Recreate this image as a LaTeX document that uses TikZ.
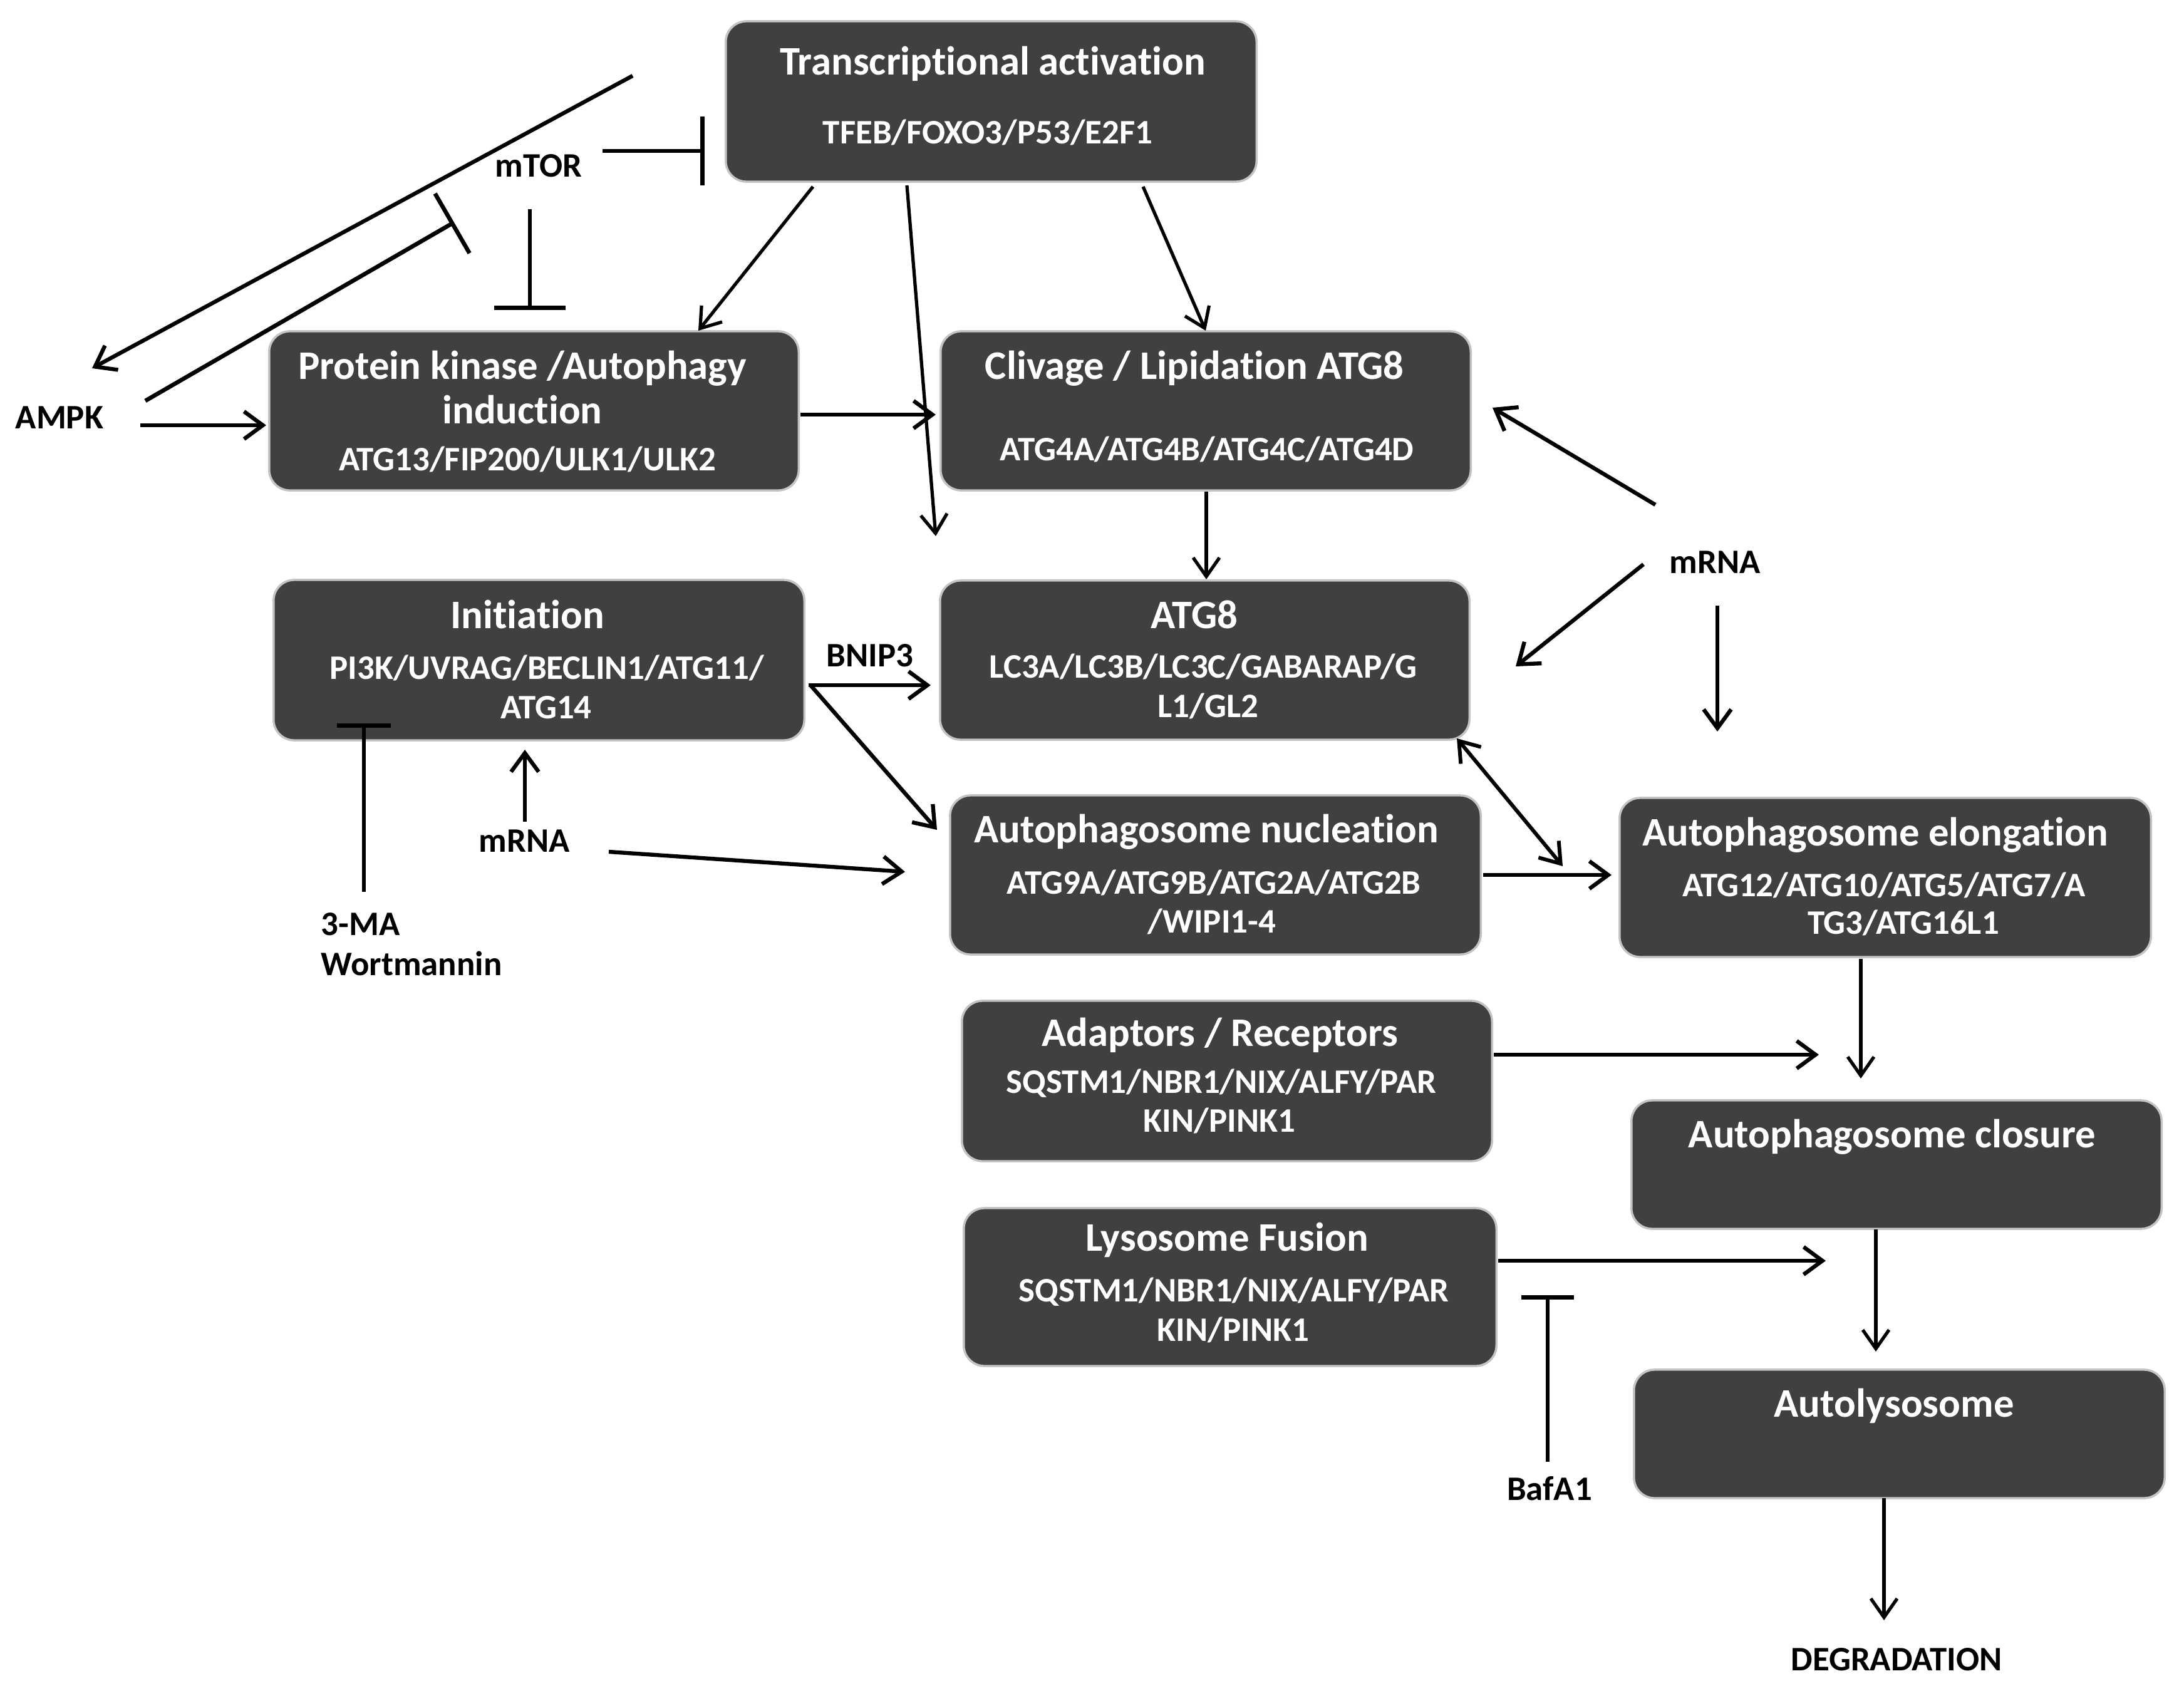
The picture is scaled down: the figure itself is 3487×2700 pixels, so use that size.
\documentclass[tikz,border=0pt]{standalone}
\usepackage{fontspec}
\setmainfont{Carlito}[Ligatures={NoCommon,NoRare,NoContextual},RawFeature={-liga;-clig;-dlig}]
\usetikzlibrary{arrows.meta}
\definecolor{boxgray}{HTML}{404040}
\definecolor{edgegray}{HTML}{C4C4C4}
\begin{document}
\begin{tikzpicture}[x=0.01cm,y=-0.01cm,
  box/.style={draw=edgegray, line width=0.035cm, fill=boxgray, rounded corners=0.33cm, inner sep=0pt},
  ttl/.style={anchor=base, text=white, inner sep=0pt, font=\fontsize{18.4}{22}\selectfont\bfseries},
  sub/.style={anchor=base, text=white, inner sep=0pt, font=\fontsize{15.6}{18}\selectfont\bfseries},
  lbl/.style={anchor=base, text=black, inner sep=0pt, font=\fontsize{15.6}{18}\selectfont\bfseries},
  lbll/.style={lbl, anchor=base west},
  act/.style={line width=1.8pt, -{Straight Barb[length=0.3cm,width=0.44cm]}},
  tact/.style={line width=1.5pt, -{Straight Barb[length=0.3cm,width=0.42cm]}},
  dact/.style={line width=1.7pt, {Straight Barb[length=0.3cm,width=0.42cm]}-{Straight Barb[length=0.3cm,width=0.42cm]}},
  inh/.style={line width=1.9pt, -{Bar[width=#1]}},
  inh/.default=1.1cm]
\useasboundingbox[fill=white] (0,0) rectangle (3487,2700);

% boxes
\node[box, minimum width=8.47cm, minimum height=2.56cm] (ta) at (1582.5,162) {};
\node[box, minimum width=8.45cm, minimum height=2.54cm] (pk) at (852.5,656) {};
\node[box, minimum width=8.46cm, minimum height=2.54cm] (cl) at (1925,656) {};
\node[box, minimum width=8.47cm, minimum height=2.56cm] (in) at (860.5,1054) {};
\node[box, minimum width=8.45cm, minimum height=2.54cm] (a8) at (1923.5,1054) {};
\node[box, minimum width=8.47cm, minimum height=2.54cm] (nu) at (1940.5,1397) {};
\node[box, minimum width=8.48cm, minimum height=2.54cm] (el) at (3010,1401) {};
\node[box, minimum width=8.46cm, minimum height=2.56cm] (ad) at (1959,1726) {};
\node[box, minimum width=8.46cm, minimum height=2.05cm] (clo) at (3028,1859.5) {};
\node[box, minimum width=8.50cm, minimum height=2.52cm] (ly) at (1964,2055) {};
\node[box, minimum width=8.47cm, minimum height=2.05cm] (au) at (3032.5,2289.5) {};

% box texts
\node[ttl] (taT) at (1585,120) {Transcriptional activation};
\node[sub] (taS) at (1577,230) {TFEB/FOXO3/P53/E2F1};
\node[ttl] (pkT) at (834,605) {Protein kinase /Autophagy};
\node[ttl] (pkT2) at (834,676) {induction};
\node[sub] (pkS) at (842,751) {ATG13/FIP200/ULK1/ULK2};
\node[ttl] (clT) at (1907,605) {Clivage / Lipidation ATG8};
\node[sub] (clS) at (1927,735) {ATG4A/ATG4B/ATG4C/ATG4D};
\node[ttl] (inT) at (842,1003) {Initiation};
\node[sub] (inS) at (873,1084) {PI3K/UVRAG/BECLIN1/ATG11/};
\node[sub] (inS2) at (872,1147) {ATG14};
\node[ttl] (a8T) at (1907,1003) {ATG8};
\node[sub] (a8S) at (1921,1082) {LC3A/LC3B/LC3C/GABARAP/G};
\node[sub] (a8S2) at (1929,1145) {L1/GL2};
\node[ttl] (nuT) at (1926,1345) {Autophagosome nucleation};
\node[sub] (nuS) at (1938,1427) {ATG9A/ATG9B/ATG2A/ATG2B};
\node[sub] (nuS2) at (1935,1489) {/WIPI1-4};
\node[ttl] (elT) at (2994,1350) {Autophagosome elongation};
\node[sub] (elS) at (3008,1431) {ATG12/ATG10/ATG5/ATG7/A};
\node[sub] (elS2) at (3039,1491) {TG3/ATG16L1};
\node[ttl] (adT) at (1948,1670) {Adaptors / Receptors};
\node[sub] (adS) at (1950,1745) {SQSTM1/NBR1/NIX/ALFY/PAR};
\node[sub] (adS2) at (1947,1807) {KIN/PINK1};
\node[ttl] (cloT) at (3021,1832) {Autophagosome closure};
\node[ttl] (lyT) at (1959,1997) {Lysosome Fusion};
\node[sub] (lyS) at (1970,2078) {SQSTM1/NBR1/NIX/ALFY/PAR};
\node[sub] (lyS2) at (1969,2141) {KIN/PINK1};
\node[ttl] (auT) at (3024,2262) {Autolysosome};

% free labels
\node[lbl] (mtor) at (860,283) {mTOR};
\node[lbl] (ampk) at (95,684) {AMPK};
\node[lbl] (mrnaR) at (2738,915) {mRNA};
\node[lbl] (mrnaL) at (837,1360) {mRNA};
\node[lbl] (bnip) at (1389,1064) {BNIP3};
\node[lbll] (ma) at (512,1493) {3-MA};
\node[lbll] (wort) at (512,1557) {Wortmannin};
\node[lbl] (baf) at (2474,2395) {BafA1};
\node[lbl] (deg) at (3028,2667) {DEGRADATION};

% connector end points
\coordinate (c1s) at (1010,121);  \coordinate (c1e) at (147,588);
\coordinate (c2s) at (232,640);   \coordinate (c2e) at (725,355);
\coordinate (c3s) at (962,241);   \coordinate (c3e) at (1125,241);
\coordinate (c4s) at (846,334);   \coordinate (c4e) at (846,495);
\coordinate (c5s) at (224,679);   \coordinate (c5e) at (425,679);
\coordinate (c6s) at (1298,298);  \coordinate (c6e) at (1115,528);
\coordinate (c7s) at (1448,296);  \coordinate (c7e) at (1494,856);
\coordinate (c8s) at (1825,298);  \coordinate (c8e) at (1925,528);
\coordinate (c9s) at (1278,662);  \coordinate (c9e) at (1494,662);
\coordinate (c10s) at (1926,785); \coordinate (c10e) at (1926,925);
\coordinate (c11s) at (2643,806); \coordinate (c11e) at (2383,651);
\coordinate (c12s) at (2624,901); \coordinate (c12e) at (2420,1064);
\coordinate (c13s) at (2742,967); \coordinate (c13e) at (2742,1168);
\coordinate (c14s) at (2326,1179);\coordinate (c14e) at (2495,1383);
\coordinate (c15s) at (2368,1397);\coordinate (c15e) at (2573,1397);
\coordinate (c16s) at (1291,1094);\coordinate (c16e) at (1486,1094);
\coordinate (c17s) at (1294,1094);\coordinate (c17e) at (1496,1325);
\coordinate (c18s) at (838,1312); \coordinate (c18e) at (838,1197);
\coordinate (c19s) at (972,1360); \coordinate (c19e) at (1445,1392);
\coordinate (c20s) at (581,1424); \coordinate (c20e) at (581,1155);
\coordinate (c21s) at (2971,1531);\coordinate (c21e) at (2971,1722);
\coordinate (c22s) at (2385,1684);\coordinate (c22e) at (2904,1684);
\coordinate (c23s) at (2995,1963);\coordinate (c23e) at (2995,2158);
\coordinate (c24s) at (2392,2013);\coordinate (c24e) at (2915,2013);
\coordinate (c25s) at (2471,2334);\coordinate (c25e) at (2471,2068);
\coordinate (c26s) at (3008,2392);\coordinate (c26e) at (3008,2587);

% connectors
\draw[act] (c1s) -- (c1e);
\draw[inh=1.1cm] (c2s) -- (c2e);
\draw[inh=1.1cm] (c3s) -- (c3e);
\draw[inh=1.14cm] (c4s) -- (c4e);
\draw[act] (c5s) -- (c5e);
\draw[tact] (c6s) -- (c6e);
\draw[tact] (c7s) -- (c7e);
\draw[tact] (c8s) -- (c8e);
\draw[act] (c9s) -- (c9e);
\draw[tact] (c10s) -- (c10e);
\draw[act] (c11s) -- (c11e);
\draw[act] (c12s) -- (c12e);
\draw[act] (c13s) -- (c13e);
\draw[dact] (c14s) -- (c14e);
\draw[act] (c15s) -- (c15e);
\draw[act] (c16s) -- (c16e);
\draw[act] (c17s) -- (c17e);
\draw[act] (c18s) -- (c18e);
\draw[act] (c19s) -- (c19e);
\draw[inh=0.86cm] (c20s) -- (c20e);
\draw[tact] (c21s) -- (c21e);
\draw[act] (c22s) -- (c22e);
\draw[tact] (c23s) -- (c23e);
\draw[act] (c24s) -- (c24e);
\draw[inh=0.84cm] (c25s) -- (c25e);
\draw[tact] (c26s) -- (c26e);
\end{tikzpicture}
\end{document}
